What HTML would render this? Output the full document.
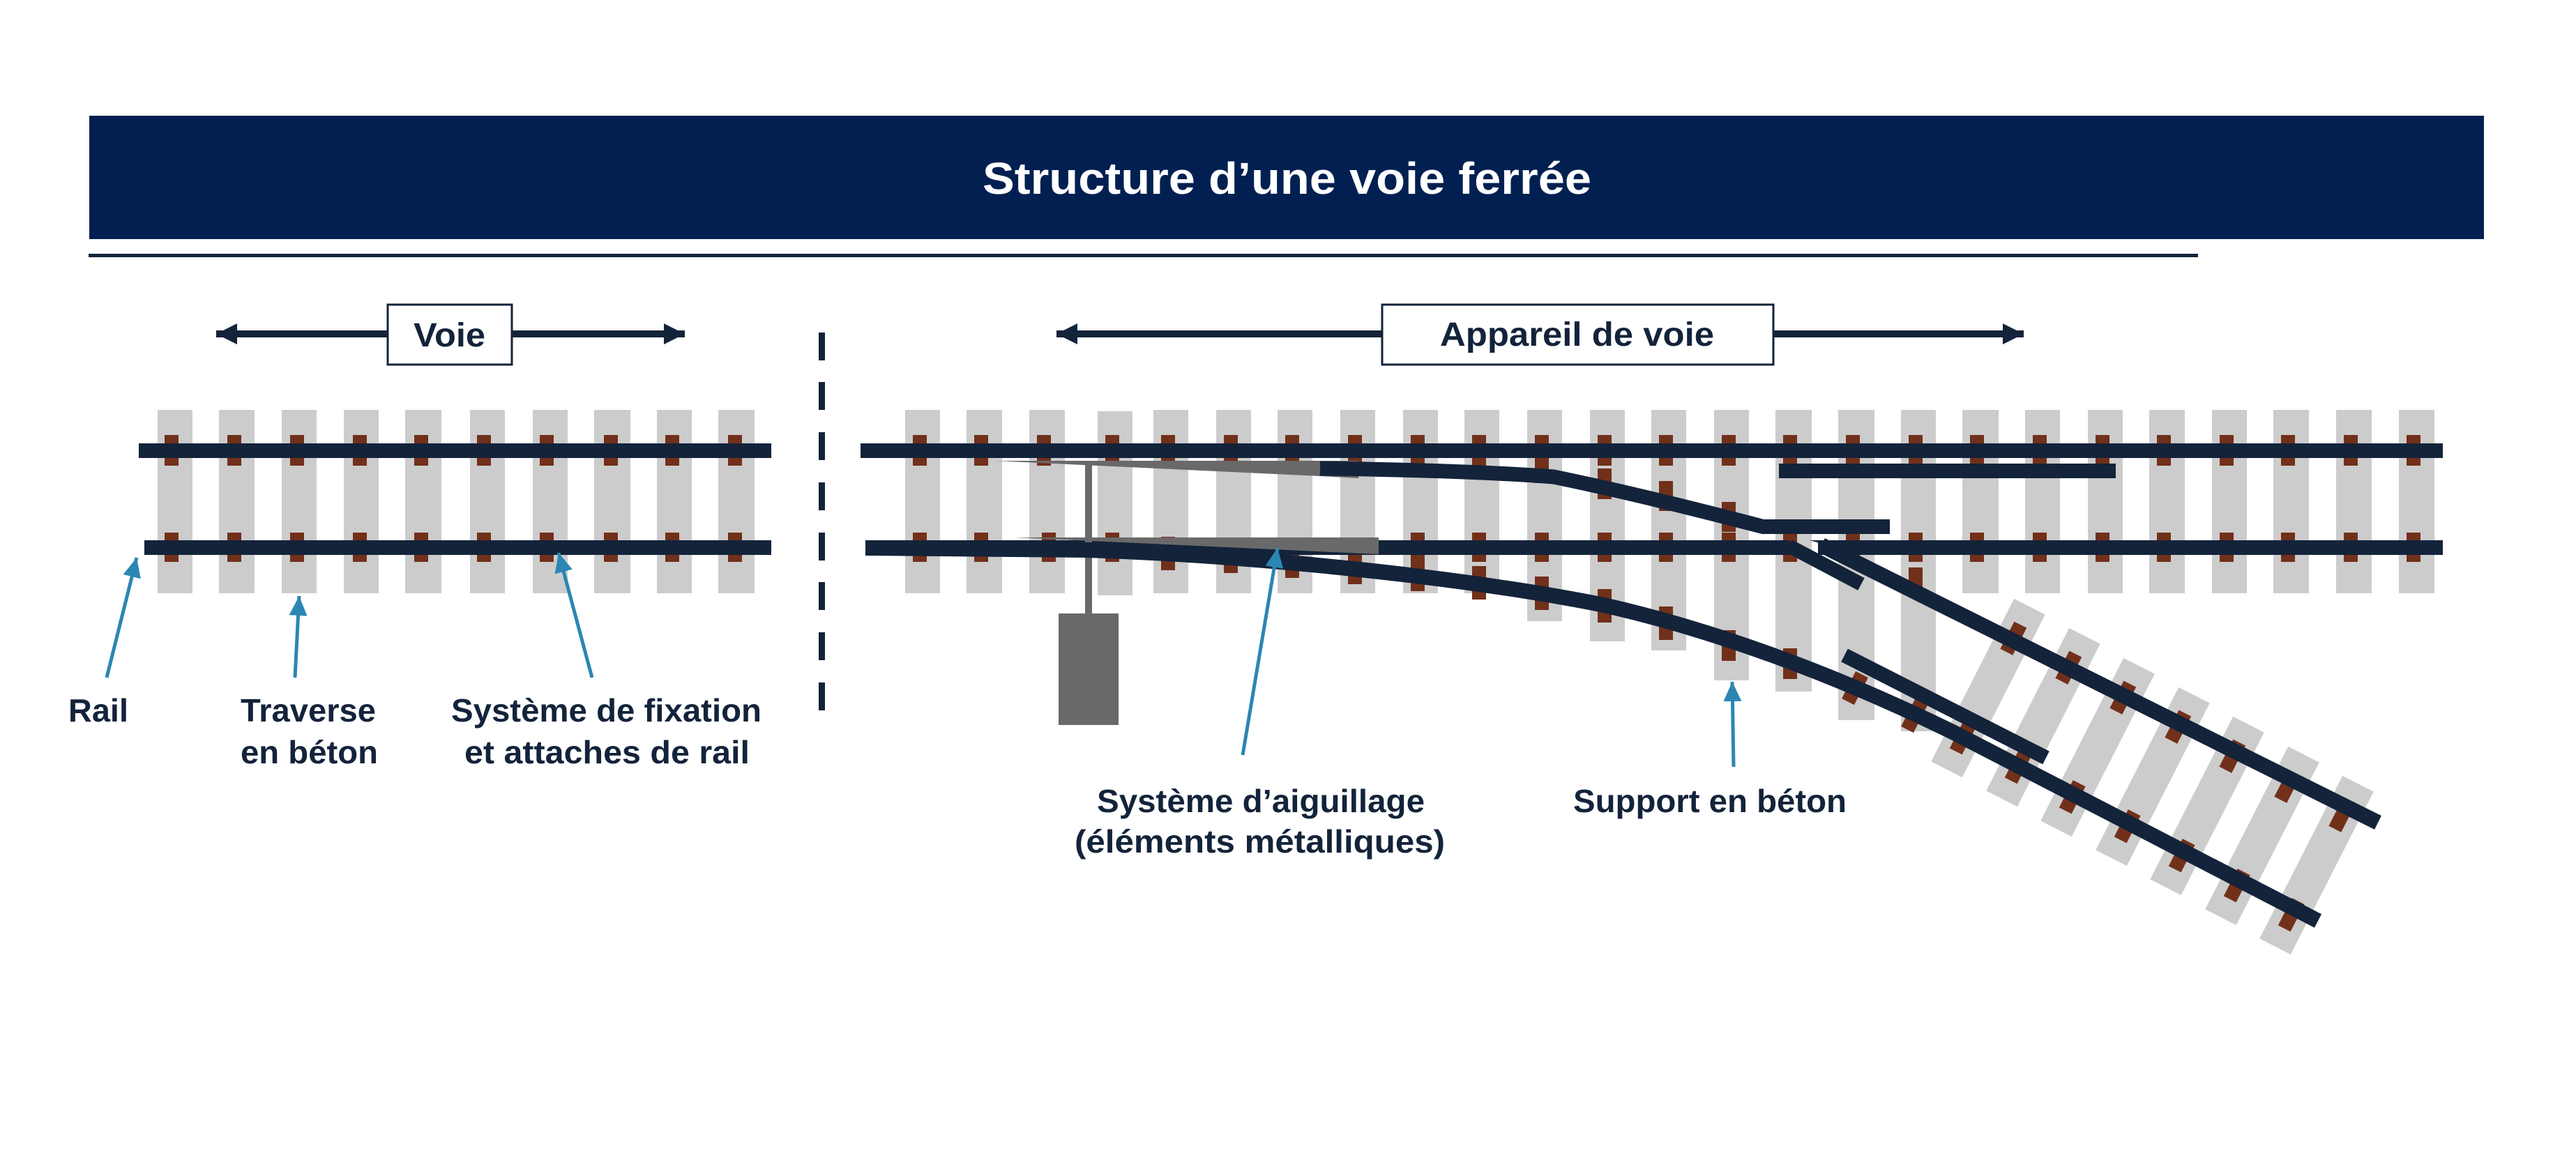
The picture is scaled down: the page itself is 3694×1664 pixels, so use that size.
<!DOCTYPE html>
<html><head><meta charset="utf-8"><style>
html,body{margin:0;padding:0;background:#fff;}
svg{display:block;}
text{font-family:"Liberation Sans",sans-serif;font-weight:bold;}
</style></head><body>
<svg width="3694" height="1664" viewBox="0 0 3694 1664" xmlns="http://www.w3.org/2000/svg">
<defs>
<marker id="bh" markerUnits="userSpaceOnUse" markerWidth="34" markerHeight="30" refX="28" refY="13" orient="auto"><path d="M0,0 L28,13 L0,26 Z" fill="#2c86b3"/></marker>
<marker id="nh" markerUnits="userSpaceOnUse" markerWidth="34" markerHeight="34" refX="30" refY="15" orient="auto-start-reverse"><path d="M0,0 L30,15 L0,30 Z" fill="#13233a"/></marker>
</defs>
<rect width="3694" height="1664" fill="#fff"/>
<!-- banner -->
<rect x="128" y="166" width="3434" height="177" fill="#012051"/>
<text x="1409" y="278" font-size="64" fill="#fff" textLength="873" lengthAdjust="spacingAndGlyphs">Structure d’une voie ferrée</text>
<rect x="127" y="364" width="3025" height="5" fill="#13233a"/>

<!-- Voie arrow & box -->
<line x1="310" y1="479" x2="982" y2="479" stroke="#13233a" stroke-width="10" marker-start="url(#nh)" marker-end="url(#nh)"/>
<rect x="556" y="437" width="178" height="86" fill="#fff" stroke="#13233a" stroke-width="3"/>
<text x="593" y="497" font-size="48" fill="#13233a" textLength="103" lengthAdjust="spacingAndGlyphs">Voie</text>

<!-- Appareil arrow & box -->
<line x1="1515" y1="479" x2="2902" y2="479" stroke="#13233a" stroke-width="10" marker-start="url(#nh)" marker-end="url(#nh)"/>
<rect x="1982" y="437" width="561" height="86" fill="#fff" stroke="#13233a" stroke-width="3"/>
<text x="2065" y="496" font-size="48" fill="#13233a" textLength="393" lengthAdjust="spacingAndGlyphs">Appareil de voie</text>

<!-- dashed separator -->
<g fill="#13233a">
<rect x="1174" y="477" width="9" height="40"/><rect x="1174" y="548" width="9" height="40"/>
<rect x="1174" y="620" width="9" height="40"/><rect x="1174" y="692" width="9" height="40"/>
<rect x="1174" y="764" width="9" height="40"/><rect x="1174" y="835" width="9" height="40"/>
<rect x="1174" y="907" width="9" height="40"/><rect x="1174" y="979" width="9" height="40"/>
</g>

<!-- LEFT TRACK -->
<g fill="#cccccc">
<rect x="226" y="588" width="50" height="263"/><rect x="314" y="588" width="51" height="263"/>
<rect x="404" y="588" width="50" height="263"/><rect x="493" y="588" width="50" height="263"/>
<rect x="581" y="588" width="52" height="263"/><rect x="674" y="588" width="50" height="263"/>
<rect x="764" y="588" width="50" height="263"/><rect x="852" y="588" width="52" height="263"/>
<rect x="942" y="588" width="50" height="263"/><rect x="1030" y="588" width="52" height="263"/>
</g>
<g fill="#71301a">
<rect x="236" y="624" width="20" height="44"/><rect x="236" y="764" width="20" height="42"/>
<rect x="326" y="624" width="20" height="44"/><rect x="326" y="764" width="20" height="42"/>
<rect x="416" y="624" width="20" height="44"/><rect x="416" y="764" width="20" height="42"/>
<rect x="506" y="624" width="20" height="44"/><rect x="506" y="764" width="20" height="42"/>
<rect x="594" y="624" width="20" height="44"/><rect x="594" y="764" width="20" height="42"/>
<rect x="684" y="624" width="20" height="44"/><rect x="684" y="764" width="20" height="42"/>
<rect x="774" y="624" width="20" height="44"/><rect x="774" y="764" width="20" height="42"/>
<rect x="866" y="624" width="20" height="44"/><rect x="866" y="764" width="20" height="42"/>
<rect x="954" y="624" width="20" height="44"/><rect x="954" y="764" width="20" height="42"/>
<rect x="1044" y="624" width="20" height="44"/><rect x="1044" y="764" width="20" height="42"/>
</g>
<rect x="199" y="636" width="907" height="21" fill="#13233a"/>
<rect x="207" y="775" width="899" height="21" fill="#13233a"/>

<!-- left labels & arrows -->
<g stroke="#2c86b3" stroke-width="5" fill="none">
<line x1="153" y1="972" x2="196" y2="800" marker-end="url(#bh)"/>
<line x1="423" y1="972" x2="429" y2="855" marker-end="url(#bh)"/>
<line x1="849" y1="972" x2="801" y2="793" marker-end="url(#bh)"/>
</g>
<g fill="#13233a" font-size="46">
<text x="98" y="1035" textLength="86" lengthAdjust="spacingAndGlyphs">Rail</text>
<text x="345" y="1035" textLength="194" lengthAdjust="spacingAndGlyphs">Traverse</text>
<text x="345" y="1095" textLength="197" lengthAdjust="spacingAndGlyphs">en béton</text>
<text x="647" y="1035" textLength="445" lengthAdjust="spacingAndGlyphs">Système de fixation</text>
<text x="666" y="1095" textLength="409" lengthAdjust="spacingAndGlyphs">et attaches de rail</text>
</g>

<!-- RIGHT TRACK sleepers -->
<g fill="#cccccc">
<rect x="1298" y="588" width="50" height="263"/><rect x="1386" y="588" width="51" height="263"/>
<rect x="1476" y="588" width="51" height="263"/><rect x="1574" y="590" width="50" height="264"/>
<rect x="1654" y="588" width="50" height="263"/><rect x="1744" y="588" width="50" height="263"/>
<rect x="1832" y="588" width="50" height="263"/><rect x="1922" y="588" width="50" height="263"/>
<rect x="2012" y="588" width="50" height="263"/><rect x="2100" y="588" width="50" height="263"/>
<rect x="2190" y="588" width="50" height="303"/><rect x="2280" y="588" width="50" height="332"/>
<rect x="2368" y="588" width="50" height="345"/><rect x="2458" y="588" width="50" height="388"/>
<rect x="2546" y="588" width="52" height="404"/><rect x="2636" y="588" width="52" height="445"/>
<rect x="2726" y="588" width="50" height="461"/>
<rect x="2814" y="588" width="52" height="263"/><rect x="2904" y="588" width="50" height="263"/>
<rect x="2994" y="588" width="50" height="263"/><rect x="3082" y="588" width="51" height="263"/>
<rect x="3172" y="588" width="50" height="263"/><rect x="3260" y="588" width="51" height="263"/>
<rect x="3350" y="588" width="51" height="263"/><rect x="3440" y="588" width="51" height="263"/>
</g>
<!-- rotated sleepers -->
<g fill="#cccccc">
<rect x="-25" y="-131" width="50" height="262" transform="translate(2851,987) rotate(27)"/>
<rect x="-25" y="-131" width="50" height="262" transform="translate(2930,1029) rotate(27)"/>
<rect x="-25" y="-131" width="50" height="262" transform="translate(3008,1072) rotate(27)"/>
<rect x="-25" y="-131" width="50" height="262" transform="translate(3087,1114) rotate(27)"/>
<rect x="-25" y="-131" width="50" height="262" transform="translate(3165,1156) rotate(27)"/>
<rect x="-25" y="-131" width="50" height="262" transform="translate(3244,1199) rotate(27)"/>
<rect x="-25" y="-131" width="50" height="262" transform="translate(3322,1241) rotate(27)"/>
</g>
<g fill="#71301a">
<rect x="1309" y="624" width="20" height="44"/><rect x="1397" y="624" width="20" height="44"/>
<rect x="1487" y="624" width="20" height="44"/><rect x="1585" y="624" width="20" height="44"/>
<rect x="1665" y="624" width="20" height="44"/><rect x="1755" y="624" width="20" height="44"/>
<rect x="1843" y="624" width="20" height="44"/><rect x="1933" y="624" width="20" height="44"/>
<rect x="2023" y="624" width="20" height="44"/><rect x="2111" y="624" width="20" height="44"/>
<rect x="2201" y="624" width="20" height="44"/><rect x="2291" y="624" width="20" height="44"/>
<rect x="2379" y="624" width="20" height="44"/><rect x="2469" y="624" width="20" height="44"/>
<rect x="2557" y="624" width="20" height="44"/><rect x="2647" y="624" width="20" height="44"/>
<rect x="2737" y="624" width="20" height="44"/><rect x="2825" y="624" width="20" height="44"/>
<rect x="2915" y="624" width="20" height="44"/><rect x="3005" y="624" width="20" height="44"/>
<rect x="3093" y="624" width="20" height="44"/><rect x="3183" y="624" width="20" height="44"/>
<rect x="3271" y="624" width="20" height="44"/><rect x="3361" y="624" width="20" height="44"/>
<rect x="3451" y="624" width="20" height="44"/>
<rect x="1309" y="764" width="20" height="42"/><rect x="1397" y="764" width="20" height="42"/>
<rect x="1494" y="764" width="20" height="42"/><rect x="1585" y="764" width="20" height="42"/>
<rect x="2023" y="764" width="20" height="42"/><rect x="2111" y="764" width="20" height="42"/>
<rect x="2201" y="764" width="20" height="42"/><rect x="2291" y="764" width="20" height="42"/>
<rect x="2379" y="764" width="20" height="42"/><rect x="2469" y="764" width="20" height="42"/>
<rect x="2557" y="764" width="20" height="42"/><rect x="2647" y="764" width="20" height="42"/>
<rect x="2737" y="764" width="20" height="42"/><rect x="2825" y="764" width="20" height="42"/>
<rect x="2915" y="764" width="20" height="42"/><rect x="3005" y="764" width="20" height="42"/>
<rect x="3093" y="764" width="20" height="42"/><rect x="3183" y="764" width="20" height="42"/>
<rect x="3271" y="764" width="20" height="42"/><rect x="3361" y="764" width="20" height="42"/>
<rect x="3451" y="764" width="20" height="42"/>
<rect x="1665" y="770" width="20" height="48"/><rect x="1755" y="774" width="20" height="48"/>
<rect x="1843" y="781" width="20" height="48"/><rect x="1933" y="790" width="20" height="48"/>
<rect x="2023" y="800" width="20" height="48"/><rect x="2111" y="812" width="20" height="48"/>
<rect x="2201" y="827" width="20" height="48"/><rect x="2291" y="845" width="20" height="48"/>
<rect x="2379" y="870" width="20" height="48"/><rect x="2469" y="904" width="20" height="44"/>
<rect x="2557" y="930" width="20" height="44"/>
<rect x="2201" y="652" width="20" height="41"/><rect x="2291" y="672" width="20" height="44"/>
<rect x="2379" y="690" width="20" height="43"/><rect x="2469" y="720" width="20" height="43"/>
<rect x="2737" y="814" width="20" height="42"/>
</g>
<g fill="#71301a">
<g transform="translate(2851,987) rotate(27)"><rect x="-10" y="-102" width="20" height="44"/><rect x="-10" y="58" width="20" height="44"/></g>
<g transform="translate(2930,1029) rotate(27)"><rect x="-10" y="-102" width="20" height="44"/><rect x="-10" y="58" width="20" height="44"/></g>
<g transform="translate(3008,1072) rotate(27)"><rect x="-10" y="-102" width="20" height="44"/><rect x="-10" y="58" width="20" height="44"/></g>
<g transform="translate(3087,1114) rotate(27)"><rect x="-10" y="-102" width="20" height="44"/><rect x="-10" y="58" width="20" height="44"/></g>
<g transform="translate(3165,1156) rotate(27)"><rect x="-10" y="-102" width="20" height="44"/><rect x="-10" y="58" width="20" height="44"/></g>
<g transform="translate(3244,1199) rotate(27)"><rect x="-10" y="-102" width="20" height="44"/><rect x="-10" y="58" width="20" height="44"/></g>
<g transform="translate(3322,1241) rotate(27)"><rect x="-10" y="-102" width="20" height="44"/><rect x="-10" y="58" width="20" height="44"/></g>
<g transform="translate(2660,987) rotate(27)"><rect x="-10" y="-22" width="20" height="44"/></g>
<g transform="translate(2745,1027) rotate(27)"><rect x="-10" y="-22" width="20" height="44"/></g>
</g>

<!-- rails -->
<g fill="#13233a">
<rect x="1234" y="636" width="2269" height="21"/>
<rect x="1241" y="775" width="1326" height="21"/>
<rect x="2551" y="665" width="483" height="21"/>
<rect x="2607" y="775" width="896" height="21"/>
<rect x="2527" y="745" width="183" height="21"/>
</g>
<!-- switch machine -->
<rect x="1556" y="661" width="10" height="220" fill="#696969"/>
<rect x="1518" y="880" width="86" height="160" fill="#696969"/>
<!-- blades -->
<polygon points="1427,661 1948,661 1948,686 1893,683" fill="#696969"/>
<g fill="none" stroke="#13233a" stroke-width="21" stroke-linejoin="round">
<path d="M1893,672 C2050,674 2150,678 2228,684 C2330,705 2430,730 2530,756"/>
<path d="M1241,786 L1560,789 C1800,797 2100,828 2300,868 C2450,902 2620,962 2800,1050 L3324,1321" stroke-width="22"/>
<line x1="2565" y1="783" x2="2669" y2="838" stroke-width="20" stroke-linecap="butt"/>
<line x1="2612" y1="782" x2="3410" y2="1180" stroke-width="22"/>
<line x1="2645" y1="940" x2="2934" y2="1087" stroke-width="21"/>
</g>
<polygon points="1455,771 1977,771 1977,795" fill="#696969"/>
<polygon points="2595,775 2640,775 2650,790" fill="#13233a"/>

<!-- right arrows & labels -->
<g stroke="#2c86b3" stroke-width="5" fill="none">
<line x1="1782" y1="1083" x2="1832" y2="786" marker-end="url(#bh)"/>
<line x1="2486" y1="1100" x2="2484" y2="978" marker-end="url(#bh)"/>
</g>
<g fill="#13233a" font-size="46">
<text x="1573" y="1165" textLength="470" lengthAdjust="spacingAndGlyphs">Système d’aiguillage</text>
<text x="1541" y="1223" textLength="531" lengthAdjust="spacingAndGlyphs">(éléments métalliques)</text>
<text x="2256" y="1165" textLength="392" lengthAdjust="spacingAndGlyphs">Support en béton</text>
</g>
</svg>
</body></html>
